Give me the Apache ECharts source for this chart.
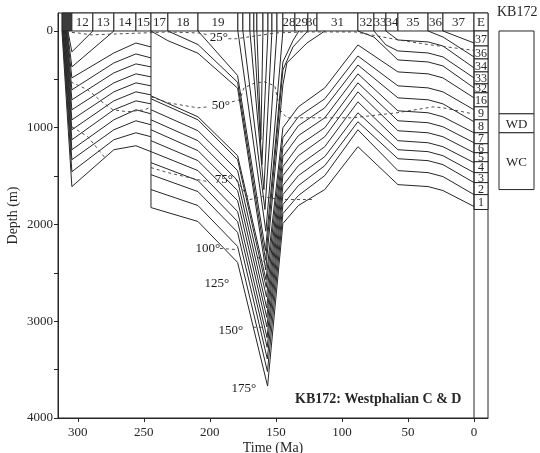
<!DOCTYPE html>
<html>
<head>
<meta charset="utf-8">
<script src="https://cdn.jsdelivr.net/npm/echarts@6/dist/echarts.min.js"></script>
<style>
  html, body { margin: 0; background: #fff; }
  #chart { width: 540px; height: 453px; }
</style>
</head>
<body>
<div id="chart"></div>
<script>
// axes
const timeTicks = [300, 250, 200, 150, 100, 50, 0]
const depthTicks = [0, 1000, 2000, 3000, 4000]
const depthMinorTicks = [0, 500, 1000, 1500, 2000, 2500, 3000, 3500, 4000]

// stratigraphic intervals along the top strip (Ma)
const periodBounds = [312, 304.5, 288.6, 272.7, 256, 244.6, 231.8, 209, 178.8, 175, 169.7, 166.7, 164.4, 159.8, 156, 153, 149.2, 144.7, 135.6, 125.8, 118.9, 87.9, 75.8, 66.7, 57.6, 34.8, 23.5, 0, -10.6]
const periodLabels = ['', '12', '13', '14', '15', '17', '18', '19', '', '', '', '', '', '', '', '', '', '28', '29', '30', '31', '32', '33', '34', '35', '36', '37', 'E']

// present-day units in the E column (depth, m)
const unitLabels = ['37', '36', '34', '33', '32', '16', '9', '8', '7', '6', '5', '4', '3', '2', '1']
const unitBounds = [0, 155, 289, 423, 546, 639, 784, 918, 1052, 1165, 1258, 1351, 1464, 1567, 1691, 1845]

// KB172 well column
const wellUnits = ['', 'WD', 'WC']
const wellBounds = [0, 856, 1052, 1639]

// burial curves [Ma, depth m]
const westphalianLines = [
  [[307.5, 0], [304.5, 216], [288.6, 0]],
  [[307.9, 0], [304.5, 371], [272.7, 0]],
  [[308.3, 0], [304.5, 485], [272.7, 227], [256, 124], [244.6, 165]],
  [[308.6, 0], [304.5, 608], [272.7, 330], [256, 237], [244.6, 278]],
  [[309.0, 0], [304.5, 711], [272.7, 433], [256, 340], [244.6, 371]],
  [[309.4, 0], [304.5, 814], [272.7, 536], [256, 443], [244.6, 474]],
  [[309.8, 0], [304.5, 918], [272.7, 629], [256, 536], [244.6, 567]],
  [[310.1, 0], [304.5, 1021], [272.7, 722], [256, 629], [244.6, 660]],
  [[310.5, 0], [304.5, 1124], [272.7, 814], [256, 722], [244.6, 753]],
  [[310.9, 0], [304.5, 1227], [272.7, 918], [256, 814], [244.6, 856]],
  [[311.3, 0], [304.5, 1330], [272.7, 1021], [256, 928], [244.6, 969]],
  [[311.6, 0], [304.5, 1454], [272.7, 1124], [256, 1052], [244.6, 1093]],
  [[312.0, 0], [304.5, 1608], [272.7, 1227], [256, 1186], [244.6, 1247]]
]

const breakLine = [[244.6, 0], [244.6, 1825]]
const presentLine = [[0, 0], [0, 4000]]

const triassicLines = [
  [[244.6, 0], [231.8, 100], [209, 230], [179, 590], [157.7, 2470], [144.7, 557], [141.7, 330], [126.5, 124], [112.9, 0]],
  [[231.8, 0], [209, 140], [179, 530], [157.8, 2370], [144.7, 402], [137.1, 165], [125.8, 0]],
  [[209, 0], [179, 460], [157.9, 2270], [144.7, 320], [137.1, 100], [132.6, 0]]
]

const jurassicLines = [
  [[178.8, 0], [157.6, 2070], [144.7, 0]],
  [[175, 0], [158.3, 1845], [149.2, 0]],
  [[169.7, 0], [159.1, 1640], [153, 0]],
  [[166.7, 0], [160.6, 1380], [156, 0]],
  [[164.4, 0], [161.4, 1124], [159.8, 0]]
]

const longLines = [
  [[244.6, 670], [209, 887], [179, 1289], [157.5, 2570], [144.7, 1000], [133, 784], [113, 588], [87.9, 144], [57.6, 423], [34.8, 443], [23.5, 485], [0, 691]],
  [[244.6, 701], [209, 918], [179, 1330], [157.3, 2650], [144.7, 1103], [133, 887], [113, 701], [87.9, 258], [57.6, 567], [34.8, 588], [23.5, 629], [0, 814]],
  [[244.6, 814], [209, 1031], [179, 1443], [157.1, 2750], [144.7, 1206], [133, 979], [113, 794], [87.9, 351], [57.6, 691], [34.8, 711], [23.5, 753], [0, 938]],
  [[244.6, 918], [209, 1134], [179, 1546], [157.0, 2860], [144.7, 1299], [133, 1082], [113, 897], [87.9, 443], [57.6, 825], [34.8, 845], [23.5, 887], [0, 1052]],
  [[244.6, 1021], [209, 1237], [179, 1649], [156.9, 2960], [144.7, 1402], [133, 1186], [113, 1000], [87.9, 536], [57.6, 928], [34.8, 948], [23.5, 990], [0, 1155]],
  [[244.6, 1134], [209, 1340], [179, 1753], [156.8, 3060], [144.7, 1495], [133, 1289], [113, 1093], [87.9, 629], [57.6, 1031], [34.8, 1052], [23.5, 1093], [0, 1258]],
  [[244.6, 1247], [209, 1443], [179, 1866], [156.7, 3170], [144.7, 1598], [133, 1392], [113, 1196], [87.9, 732], [57.6, 1134], [34.8, 1155], [23.5, 1196], [0, 1361]],
  [[244.6, 1361], [209, 1546], [179, 1969], [156.6, 3270], [144.7, 1691], [133, 1495], [113, 1299], [87.9, 845], [57.6, 1227], [34.8, 1247], [23.5, 1289], [0, 1464]],
  [[244.6, 1485], [209, 1660], [179, 2082], [156.5, 3390], [144.7, 1794], [133, 1598], [113, 1392], [87.9, 938], [57.6, 1320], [34.8, 1340], [23.5, 1381], [0, 1567]],
  [[244.6, 1639], [209, 1804], [179, 2227], [156.4, 3520], [144.7, 1887], [133, 1701], [113, 1495], [87.9, 1021], [57.6, 1443], [34.8, 1464], [23.5, 1505], [0, 1691]],
  [[244.6, 1825], [209, 1969], [179, 2392], [156.3, 3670], [144.7, 1990], [133, 1804], [113, 1639], [87.9, 1196], [57.6, 1588], [34.8, 1608], [23.5, 1649], [0, 1814]]
]

const tertiaryLines = [
  [[87.9, 0], [75.8, 62], [57.6, 299], [34.8, 320], [23.5, 361], [0, 588]],
  [[75.8, 0], [66.7, 144], [57.6, 206], [34.8, 227], [23.5, 268], [0, 485]],
  [[66.7, 0], [57.6, 93], [34.8, 113], [23.5, 155], [0, 381]],
  [[34.8, 0], [23.5, 62], [0, 268]],
  [[23.5, 0], [0, 124]]
]

// isotherms (dashed)
const isotherms = [
  [[309, 10], [300, 20], [290, 40], [270, 30], [250, 20], [232, 10], [209, 20], [201, 40]],
  [[186, 80], [180, 80], [170, 60], [150, 20], [130, 10], [90, 10], [82, 30], [58, 90], [35, 140], [23.5, 160], [0, 200]],
  [[305.3, 526], [292.4, 608], [281.8, 732], [273.5, 814], [262.1, 835], [249.2, 814], [244.6, 784]],
  [[244.6, 680], [231.8, 742], [209.1, 794], [201.5, 784]],
  [[183.3, 732], [177.3, 711], [174.2, 588], [165.9, 536], [158.3, 526], [150.8, 567], [147, 814], [141.7, 897], [91.7, 897], [58.3, 845], [31.1, 784], [23.5, 794], [0.8, 856]],
  [[304.5, 990], [292.4, 1093], [279.5, 1309]],
  [[244.6, 1412], [231.8, 1464], [209.1, 1536], [201.5, 1557]],
  [[180.3, 1536], [169.7, 1742], [159.8, 1711], [147, 1742], [122, 1742]],
  [[192.4, 2247], [181.1, 2258]],
  [[163.6, 2340], [156, 2412]],
  [[167.4, 3062], [158.3, 3062]]
]
const isoLabels = ['25°', '50°', '75°', '100°', '125°', '150°', '175°']
const isoLabelPos = [[193.2, 72], [191.7, 773], [189.4, 1536], [201.5, 2247], [194.7, 2608], [184.1, 3093], [174.2, 3701]]

const serif = '"Liberation Serif", "DejaVu Serif", serif'
const ink = '#262626'

const chart = echarts.init(document.getElementById('chart'))

const boxRenderer = (labels, font, darkFirst) => (params, api) => {
  const p0 = api.coord([api.value(0), api.value(2)])
  const p1 = api.coord([api.value(1), api.value(3)])
  const x = Math.min(p0[0], p1[0])
  const y = Math.min(p0[1], p1[1])
  const w = Math.abs(p1[0] - p0[0])
  const h = Math.abs(p1[1] - p0[1])
  const dark = darkFirst && params.dataIndex === 0
  return {
    type: 'group',
    children: [
      { type: 'rect', shape: { x, y, width: w, height: h }, style: { fill: dark ? '#3c3c3c' : '#fff', stroke: ink, lineWidth: 1 } },
      { type: 'text', x: x + w / 2, y: y + h / 2 + 1, style: { text: labels[params.dataIndex], align: 'center', verticalAlign: 'middle', font, fill: ink } }
    ]
  }
}

const curve = (data, dashed) => ({
  type: 'line',
  data,
  symbol: 'none',
  silent: true,
  animation: false,
  lineStyle: dashed
    ? { color: '#3a3a3a', width: 0.9, type: [3, 3] }
    : { color: ink, width: 1 }
})

const option = {
  animation: false,
  title: [
    { text: 'KB172', left: 497, top: 5, padding: 0, textStyle: { fontFamily: serif, fontWeight: 'normal', fontSize: 14, color: ink } },
    { text: 'KB172: Westphalian C & D', left: 295, top: 392, padding: 0, textStyle: { fontFamily: serif, fontWeight: 'bold', fontSize: 14, color: ink } }
  ],
  grid: [
    { left: 58, right: 52, top: 13, bottom: 35, show: true, borderColor: ink, borderWidth: 1, outerBoundsMode: 'none' },
    { left: 499, width: 35, top: 13, bottom: 35, outerBoundsMode: 'none' }
  ],
  xAxis: [
    {
      type: 'value', min: -10.6, max: 315, inverse: true,
      name: 'Time (Ma)', nameLocation: 'middle', nameGap: 23, nameMoveOverlap: false,
      nameTextStyle: { fontFamily: serif, fontSize: 14, color: ink },
      axisLine: { onZero: false, lineStyle: { color: ink } },
      axisTick: { customValues: timeTicks, length: 4, lineStyle: { color: ink } },
      axisLabel: { customValues: timeTicks, fontFamily: serif, fontSize: 13, color: ink, margin: 8 },
      splitLine: { show: false }
    },
    { gridIndex: 1, type: 'value', min: 0, max: 1, show: false }
  ],
  yAxis: [
    {
      type: 'value', min: -186, max: 4000, inverse: true,
      name: 'Depth (m)', nameLocation: 'middle', nameGap: 38, nameRotate: 90, nameMoveOverlap: false,
      nameTextStyle: { fontFamily: serif, fontSize: 14, color: ink },
      axisLine: { onZero: false, lineStyle: { color: ink } },
      axisTick: { customValues: depthMinorTicks, length: 4, lineStyle: { color: ink } },
      axisLabel: { customValues: depthTicks, formatter: v => String(v), fontFamily: serif, fontSize: 13, color: ink, margin: 5 },
      splitLine: { show: false }
    },
    { gridIndex: 1, type: 'value', min: -186, max: 4000, inverse: true, show: false }
  ],
  series: [
    ...westphalianLines.map(l => curve(l)),
    curve(breakLine),
    curve(presentLine),
    ...triassicLines.map(l => curve(l)),
    ...jurassicLines.map(l => curve(l)),
    ...longLines.map(l => curve(l)),
    ...tertiaryLines.map(l => curve(l)),
    ...isotherms.map(l => curve(l, true)),
    {
      type: 'custom',
      silent: true,
      renderItem: boxRenderer(periodLabels, '13px ' + serif, true),
      data: periodLabels.map((_, i) => [periodBounds[i], periodBounds[i + 1], -186, 0])
    },
    {
      type: 'custom',
      silent: true,
      renderItem: boxRenderer(unitLabels, '12px ' + serif, false),
      data: unitLabels.map((_, i) => [0, -10.6, unitBounds[i], unitBounds[i + 1]])
    },
    {
      type: 'custom',
      silent: true,
      xAxisIndex: 1,
      yAxisIndex: 1,
      renderItem: boxRenderer(wellUnits, '13px ' + serif, false),
      data: wellUnits.map((_, i) => [0, 1, wellBounds[i], wellBounds[i + 1]])
    },
    {
      type: 'scatter',
      silent: true,
      symbolSize: 0,
      itemStyle: { opacity: 1 },
      data: isoLabels.map((t, i) => ({ name: t, value: isoLabelPos[i] })),
      label: {
        show: true, position: 'inside', formatter: p => p.name,
        fontFamily: serif, fontSize: 13, color: '#1a1a1a'
      }
    }
  ]
}

chart.setOption(option)
window.addEventListener('resize', () => chart.resize())
</script>
</body>
</html>
